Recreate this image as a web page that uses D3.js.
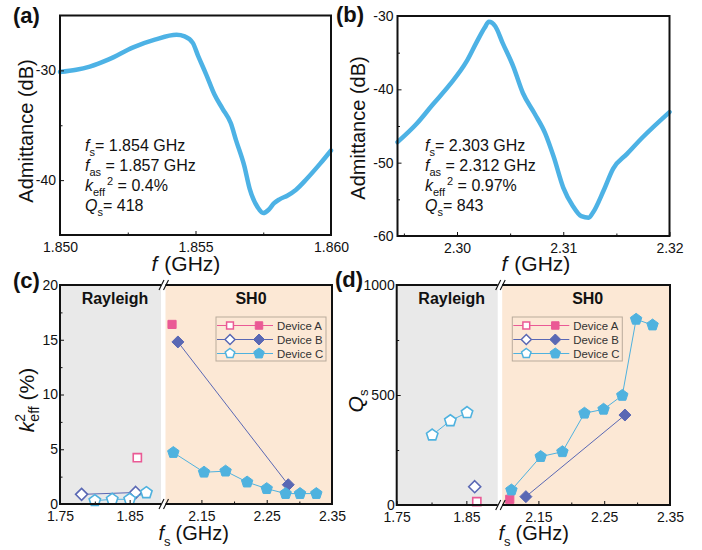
<!DOCTYPE html>
<html>
<head>
<meta charset="utf-8">
<script src="https://cdn.jsdelivr.net/npm/d3@7"></script>
<style>
  body { margin: 0; background: #fff; }
  svg text { font-family: Arial, "Liberation Sans", sans-serif; fill: #111; }
</style>
</head>
<body>
<div id="chart"></div>
<script>
// (a) admittance of the Rayleigh mode
const freqA = [1.8500, 1.8506, 1.8511, 1.8518, 1.8527, 1.8535, 1.8543, 1.8546, 1.8549, 1.8551, 1.8554, 1.8557,
               1.8560, 1.8563, 1.8565, 1.8568, 1.8570, 1.8573, 1.8575, 1.8577, 1.8579, 1.8581, 1.8584, 1.8587,
               1.8591, 1.8596, 1.8600];
const admA = [-30.15, -29.95, -29.65, -29.0, -27.9, -27.2, -26.75, -26.9, -27.5, -28.7, -30.4, -32.2,
              -33.5, -34.8, -36.4, -38.7, -40.8, -42.5, -43.0, -42.7, -42.1, -41.75, -41.4, -40.9,
              -39.9, -38.5, -37.3];

// (b) admittance of the SH0 mode
const freqB = [2.2944, 2.2962, 2.2977, 2.2993, 2.3009, 2.3018, 2.3026, 2.3030, 2.3036, 2.3043, 2.3053, 2.3062,
               2.3073, 2.3083, 2.3091, 2.3100, 2.3109, 2.3117, 2.3124, 2.3128, 2.3138, 2.3147, 2.3160, 2.3175, 2.3200];
const admB = [-47.2, -44.7, -42.1, -39.4, -36.2, -33.7, -31.6, -30.8, -31.4, -33.7, -36.9, -40.5,
              -43.3, -46.0, -49.2, -53.4, -55.9, -57.3, -57.5, -56.8, -53.8, -50.8, -48.8, -46.5, -43.1];

// (c) k2eff (%) vs fs (GHz); open = Rayleigh, filled = SH0
const kA_open = [[1.861, 4.23]];
const kA_fill = [[2.105, 16.4]];
const kB_open = [[1.781, 0.88], [1.8586, 1.05]];
const kB_fill = [[2.114, 14.8], [2.283, 1.76]];
const kC_open = [[1.80, 0.3], [1.825, 0.43], [1.85, 0.43], [1.874, 1.03]];
const kC_fill = [[2.107, 4.7], [2.154, 2.9], [2.187, 3.0], [2.220, 2.0], [2.250, 1.4], [2.279, 0.95], [2.301, 0.95], [2.326, 0.95]];

// (d) Qs vs fs (GHz)
const qA_open = [[1.865, 15]];
const qA_fill = [[2.1065, 26]];
const qB_open = [[1.862, 83]];
const qB_fill = [[2.131, 38], [2.2815, 409]];
const qC_open = [[1.801, 318], [1.827, 383], [1.851, 420]];
const qC_fill = [[2.109, 68], [2.1535, 220], [2.1865, 242], [2.220, 417], [2.249, 435], [2.2775, 498], [2.2985, 844], [2.3235, 818]];

const devices = ["Device A", "Device B", "Device C"];
const devColors = ["#ea5a95", "#5a68b4", "#4fb2df"];
const devShapes = ["square", "diamond", "pentagon"];

const curveColor = "#4db2e5";
const grayBg = "#e9e9e9";
const peachBg = "#fce8d5";

const svg = d3.select("#chart").append("svg")
    .attr("width", 702)
    .attr("height", 550);

// marker paths
function shapePath(shape, s) {
    if (shape === "square") {
        const h = s * 0.68;
        return `M${-h},${-h}H${h}V${h}H${-h}Z`;
    }
    if (shape === "diamond") {
        return `M0,${-s}L${s},0L0,${s}L${-s},0Z`;
    }
    const pts = d3.range(5).map(i => {
        const a = -Math.PI / 2 + i * 2 * Math.PI / 5;
        return [s * Math.cos(a), s * Math.sin(a)];
    });
    return "M" + pts.map(p => p.join(",")).join("L") + "Z";
}

// text with italic / sub / superscript parts
function richText(parent, x, y, parts, size) {
    const t = parent.append("text").attr("x", x).attr("y", y).attr("font-size", size);
    let shift = 0;
    parts.forEach(p => {
        const target = p.dy || 0;
        const ts = t.append("tspan").text(p.t).attr("dy", target - shift);
        shift = target;
        if (p.italic) ts.attr("font-style", "italic");
        if (p.size) ts.attr("font-size", p.size);
        if (p.dx) ts.attr("dx", p.dx);
    });
    return t;
}

function styleAxis(g) {
    g.select(".domain").remove();
    g.selectAll("line").attr("stroke", "#111");
    g.selectAll("text").attr("font-size", 14).attr("font-family", null).attr("fill", "#111");
}

const plain = d => String(d);

function panelLabel(x, y, txt) {
    svg.append("text").attr("x", x).attr("y", y)
        .attr("font-size", 22).attr("font-weight", "bold").text(txt);
}

// ---------- (a) and (b) ----------
function spectrumPanel(o) {
    const x = d3.scaleLinear().domain(o.xDomain).range([o.left, o.right]);
    const y = d3.scaleLinear().domain(o.yDomain).range([o.bottom, o.top]);

    svg.append("path")
        .datum(d3.zip(o.freq, o.adm))
        .attr("fill", "none")
        .attr("stroke", curveColor)
        .attr("stroke-width", 4.5)
        .attr("stroke-linecap", "round")
        .attr("stroke-linejoin", "round")
        .attr("d", d3.line().x(d => x(d[0])).y(d => y(d[1])).curve(d3.curveMonotoneX));

    svg.append("g").attr("transform", `translate(0,${o.bottom})`)
        .call(d3.axisBottom(x).tickValues(o.xTicks).tickFormat(d3.format(o.xFmt))
            .tickSizeInner(-4).tickSizeOuter(0).tickPadding(7))
        .call(styleAxis);
    svg.append("g").attr("transform", `translate(0,${o.bottom})`)
        .call(d3.axisBottom(x).tickValues(o.xMinor).tickFormat("").tickSizeInner(-2.5).tickSizeOuter(0))
        .call(styleAxis);
    svg.append("g").attr("transform", `translate(${o.left},0)`)
        .call(d3.axisLeft(y).tickValues(o.yTicks).tickFormat(plain).tickSizeInner(-4).tickSizeOuter(0).tickPadding(4))
        .call(styleAxis);
    svg.append("g").attr("transform", `translate(${o.left},0)`)
        .call(d3.axisLeft(y).tickValues(o.yMinor).tickFormat("").tickSizeInner(-2.5).tickSizeOuter(0))
        .call(styleAxis);

    svg.append("rect")
        .attr("x", o.left).attr("y", o.top)
        .attr("width", o.right - o.left).attr("height", o.bottom - o.top)
        .attr("fill", "none").attr("stroke", "#111").attr("stroke-width", 2);

    // y title
    svg.append("text")
        .attr("transform", `translate(${o.yTitleX},${o.yTitleY}) rotate(-90)`)
        .attr("text-anchor", "middle").attr("font-size", 20)
        .text("Admittance (dB)");
    // x title
    richText(svg, o.xTitleX, 271, [{t: "f", italic: true}, {t: "(GHz)", dx: 7}], 21);

    // annotation
    const ax = o.left + o.noteDx;
    const lines = o.note;
    richText(svg, ax, 151, [{t: "f", italic: true}, {t: "s", size: 11, dy: 5}, {t: "= " + lines[0]}], 16);
    richText(svg, ax, 170.5, [{t: "f", italic: true}, {t: "as", size: 11, dy: 5}, {t: " = " + lines[1]}], 16);
    richText(svg, ax, 190.5, [{t: "k", italic: true}, {t: "eff", size: 11, dy: 5}, {t: "2", size: 11, dy: -6, dx: 2},
        {t: " = " + lines[2]}], 16);
    richText(svg, ax, 210.5, [{t: "Q", italic: true}, {t: "s", size: 11, dy: 5}, {t: "= " + lines[3]}], 16);
}

spectrumPanel({
    left: 60, right: 331, top: 15.5, bottom: 235,
    xDomain: [1.850, 1.860], yDomain: [-45, -25],
    xTicks: [1.850, 1.855, 1.860], xMinor: [1.8525, 1.8575], xFmt: ".3f",
    yTicks: [-30, -40], yMinor: [-35],
    freq: freqA, adm: admA,
    yTitleX: 33, yTitleY: 131, xTitleX: 151.5,
    noteDx: 25, note: ["1.854 GHz", "1.857 GHz", "0.4%", "418"]
});

spectrumPanel({
    left: 397.5, right: 669.5, top: 16, bottom: 236,
    xDomain: [2.2944, 2.32], yDomain: [-60, -30],
    xTicks: [2.30, 2.31, 2.32], xMinor: [2.295, 2.305, 2.315], xFmt: ".2f",
    yTicks: [-30, -40, -50, -60], yMinor: [-35, -45, -55],
    freq: freqB, adm: admB,
    yTitleX: 365, yTitleY: 128, xTitleX: 501.5,
    noteDx: 27.5, note: ["2.303 GHz", "2.312 GHz", "0.97%", "843"]
});

// ---------- (c) and (d) ----------
function breakPanel(o) {
    const x0 = o.left, x1 = o.right, y0 = o.top, y1 = o.bottom;
    const gapL = x0 + 101, gapR = x0 + 105.5;
    const xl = d3.scaleLinear().domain([1.75, 1.895]).range([x0, gapL]);
    const xr = d3.scaleLinear().domain([2.095, 2.35]).range([gapR, x1]);
    const y = d3.scaleLinear().domain(o.yDomain).range([y1, y0]);

    svg.append("rect").attr("x", x0).attr("y", y0).attr("width", gapL - x0).attr("height", y1 - y0).attr("fill", grayBg);
    svg.append("rect").attr("x", gapR).attr("y", y0).attr("width", x1 - gapR).attr("height", y1 - y0).attr("fill", peachBg);

    svg.append("text").attr("x", x0 + 55).attr("y", y0 + 18.5).attr("text-anchor", "middle")
        .attr("font-size", 16).attr("font-weight", "bold").text("Rayleigh");
    svg.append("text").attr("x", x0 + 191).attr("y", y0 + 18.5).attr("text-anchor", "middle")
        .attr("font-size", 16).attr("font-weight", "bold").text("SH0");

    // series
    o.series.forEach((s, i) => {
        [["open", xl], ["fill", xr]].forEach(([kind, sx]) => {
            const pts = s[kind];
            if (pts.length > 1) {
                svg.append("path").datum(pts)
                    .attr("fill", "none").attr("stroke", devColors[i]).attr("stroke-width", 1)
                    .attr("d", d3.line().x(d => sx(d[0])).y(d => y(d[1])));
            }
            svg.selectAll(null).data(pts).enter().append("path")
                .attr("transform", d => `translate(${sx(d[0])},${y(d[1])})`)
                .attr("d", shapePath(devShapes[i], 6))
                .attr("fill", kind === "open" ? "#fff" : devColors[i])
                .attr("stroke", devColors[i])
                .attr("stroke-width", kind === "open" ? 1.6 : 1);
        });
    });

    // axes
    svg.append("g").attr("transform", `translate(0,${y1})`)
        .call(d3.axisBottom(xl).tickValues([1.75, 1.85]).tickFormat(d3.format(".2f"))
            .tickSizeInner(-4).tickSizeOuter(0).tickPadding(7)).call(styleAxis);
    svg.append("g").attr("transform", `translate(0,${y1})`)
        .call(d3.axisBottom(xl).tickValues([1.80]).tickFormat("").tickSizeInner(-2.5).tickSizeOuter(0)).call(styleAxis);
    svg.append("g").attr("transform", `translate(0,${y1})`)
        .call(d3.axisBottom(xr).tickValues([2.15, 2.25, 2.35]).tickFormat(d3.format(".2f"))
            .tickSizeInner(-4).tickSizeOuter(0).tickPadding(7)).call(styleAxis);
    svg.append("g").attr("transform", `translate(0,${y1})`)
        .call(d3.axisBottom(xr).tickValues([2.20, 2.30]).tickFormat("").tickSizeInner(-2.5).tickSizeOuter(0)).call(styleAxis);
    svg.append("g").attr("transform", `translate(${x0},0)`)
        .call(d3.axisLeft(y).tickValues(o.yTicks).tickFormat(plain).tickSizeInner(-4).tickSizeOuter(0).tickPadding(2))
        .call(styleAxis);
    svg.append("g").attr("transform", `translate(${x0},0)`)
        .call(d3.axisLeft(y).tickValues(o.yMinor).tickFormat("").tickSizeInner(-2.5).tickSizeOuter(0)).call(styleAxis);

    // frame with break
    const frame = svg.append("g").attr("stroke", "#111").attr("stroke-width", 2).attr("fill", "none");
    frame.append("line").attr("x1", x0).attr("x2", x0).attr("y1", y0 - 1).attr("y2", y1 + 1);
    frame.append("line").attr("x1", x1).attr("x2", x1).attr("y1", y0 - 1).attr("y2", y1 + 1);
    [y0, y1].forEach(yy => {
        frame.append("line").attr("x1", x0).attr("x2", gapL).attr("y1", yy).attr("y2", yy);
        frame.append("line").attr("x1", gapR).attr("x2", x1).attr("y1", yy).attr("y2", yy);
        [gapL + 0.5, gapR + 0.5].forEach(bx => {
            frame.append("line").attr("stroke-width", 1.1)
                .attr("x1", bx - 2.5).attr("y1", yy + 5).attr("x2", bx + 2.5).attr("y2", yy - 5);
        });
    });

    // legend
    const lg = svg.append("g").attr("transform", `translate(${o.legendX},317)`);
    lg.append("rect").attr("width", 110).attr("height", 44)
        .attr("fill", peachBg).attr("stroke", "#b9ab9c").attr("stroke-width", 1);
    devices.forEach((name, i) => {
        const ry = 8.5 + i * 14;
        lg.append("line").attr("x1", 1).attr("x2", 57).attr("y1", ry).attr("y2", ry)
            .attr("stroke", devColors[i]).attr("stroke-width", 1);
        lg.append("path").attr("transform", `translate(14,${ry})`).attr("d", shapePath(devShapes[i], 5))
            .attr("fill", "#fff").attr("stroke", devColors[i]).attr("stroke-width", 1.5);
        lg.append("path").attr("transform", `translate(43,${ry})`).attr("d", shapePath(devShapes[i], 5.5))
            .attr("fill", devColors[i]).attr("stroke", devColors[i]).attr("stroke-width", 1);
        lg.append("text").attr("x", 61).attr("y", ry + 4.2).attr("font-size", 11.4)
            .style("fill", "#333").text(name);
    });

    // x title
    richText(svg, o.xTitleX, 540, [{t: "f", italic: true}, {t: "s", size: 13, dy: 6}, {t: "(GHz)", dx: 5}], 20);
}

breakPanel({
    left: 60, right: 332, top: 285, bottom: 504,
    yDomain: [0, 20], yTicks: [0, 5, 10, 15, 20], yMinor: [2.5, 7.5, 12.5, 17.5],
    series: [{open: kA_open, fill: kA_fill}, {open: kB_open, fill: kB_fill}, {open: kC_open, fill: kC_fill}],
    legendX: 216, xTitleX: 158.5
});

breakPanel({
    left: 396.7, right: 670, top: 285, bottom: 505,
    yDomain: [0, 1000], yTicks: [0, 500, 1000], yMinor: [250, 750],
    series: [{open: qA_open, fill: qA_fill}, {open: qB_open, fill: qB_fill}, {open: qC_open, fill: qC_fill}],
    legendX: 512.3, xTitleX: 498.5
});

// y titles of (c) and (d)
richText(svg.append("g").attr("transform", "translate(34,400) rotate(-90)").attr("text-anchor", "middle"),
    0, 0, [{t: "k", italic: true}, {t: "2", size: 14, dy: -9}, {t: "eff", size: 14, dy: 5, dx: -7.8}, {t: " (%)"}], 21);
richText(svg.append("g").attr("transform", "translate(363,401) rotate(-90)").attr("text-anchor", "middle"),
    0, 0, [{t: "Q", italic: true}, {t: "s", size: 13, dy: 5}], 21);

panelLabel(13, 23, "(a)");
panelLabel(336, 22, "(b)");
panelLabel(13, 288, "(c)");
panelLabel(335, 287, "(d)");
</script>
</body>
</html>
